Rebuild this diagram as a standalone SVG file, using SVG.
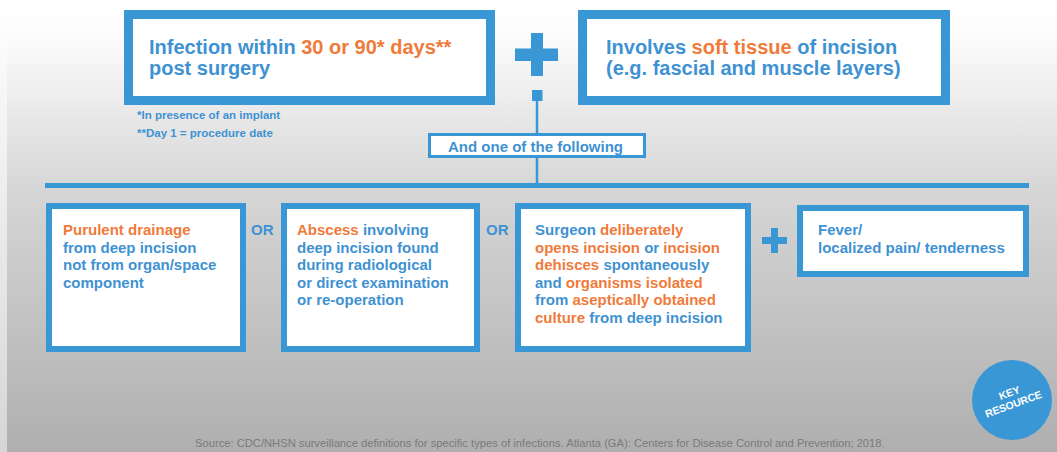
<svg xmlns="http://www.w3.org/2000/svg" width="1057" height="452" viewBox="0 0 1057 452">
<defs>
<linearGradient id="bg" x1="0" y1="0" x2="0" y2="1">
<stop offset="0" stop-color="#ffffff"/>
<stop offset="0.07" stop-color="#fdfdfd"/>
<stop offset="0.42" stop-color="#d6d6d6"/>
<stop offset="1" stop-color="#afafaf"/>
</linearGradient>
<linearGradient id="strip" x1="0" y1="0" x2="0" y2="1">
<stop offset="0" stop-color="#ffffff"/>
<stop offset="1" stop-color="#d6d6d6"/>
</linearGradient>
<style>
.box{fill:#ffffff;stroke:#3a97d6;}
.big{stroke-width:9;}
.sm{stroke-width:6;}
.t{font-family:"Liberation Sans",Arial,sans-serif;font-weight:bold;fill:#3f92d2;}
.o{fill:#ef7b3b;}
.line{stroke:#3a97d6;fill:none;}
.blue{fill:#3a97d6;}
.kr{font-family:"Liberation Sans",Arial,sans-serif;font-weight:bold;font-size:10.5px;fill:#ffffff;}
</style>
</defs>
<rect x="0" y="0" width="1057" height="452" fill="url(#bg)"/>
<rect x="0" y="0" width="7" height="452" fill="url(#strip)"/>

<g id="connectors">
<line class="line" x1="537" y1="100" x2="537" y2="134" stroke-width="2.5"/>
<line class="line" x1="537" y1="157" x2="537" y2="185" stroke-width="2.5"/>
<line class="line" x1="45" y1="185.5" x2="1029" y2="185.5" stroke-width="5"/>
</g>

<g id="node-infection">
<rect class="box big" x="128.5" y="14.5" width="362" height="86"/>
<text class="t" font-size="20" x="149" y="54">Infection within <tspan class="o">30 or 90* days**</tspan></text>
<text class="t" font-size="20" x="149" y="75">post surgery</text>
</g>

<g id="plus-top">
<rect class="blue" x="531" y="33" width="12" height="43"/>
<rect class="blue" x="515" y="48.5" width="43" height="12.5"/>
<rect class="blue" x="532" y="90" width="10.5" height="11"/>
</g>

<g id="node-soft-tissue">
<rect class="box big" x="582.5" y="14.5" width="363" height="86"/>
<text class="t" font-size="20" x="606" y="54">Involves <tspan class="o">soft tissue</tspan> of incision</text>
<text class="t" font-size="20" x="606" y="75">(e.g. fascial and muscle layers)</text>
</g>

<g id="footnotes">
<text class="t" font-size="11.5" x="137" y="119">*In presence of an implant</text>
<text class="t" font-size="11.5" x="137" y="137">**Day 1 = procedure date</text>
</g>

<g id="node-and-one">
<rect class="box" stroke-width="3" x="429.5" y="134.5" width="215" height="22"/>
<text class="t" font-size="15" x="448" y="151.5">And one of the following</text>
</g>

<g id="node-purulent">
<rect class="box sm" x="49" y="206" width="194" height="143"/>
<text class="t" font-size="15" x="63" y="235"><tspan class="o">Purulent drainage</tspan></text>
<text class="t" font-size="15" x="63" y="252.5">from deep incision</text>
<text class="t" font-size="15" x="63" y="270">not from organ/space</text>
<text class="t" font-size="15" x="63" y="287.5">component</text>
</g>

<text class="t" font-size="15" x="251" y="235">OR</text>

<g id="node-abscess">
<rect class="box sm" x="284" y="206" width="193" height="143"/>
<text class="t" font-size="15" x="297" y="235"><tspan class="o">Abscess</tspan> involving</text>
<text class="t" font-size="15" x="297" y="252.5">deep incision found</text>
<text class="t" font-size="15" x="297" y="270">during radiological</text>
<text class="t" font-size="15" x="297" y="287.5">or direct examination</text>
<text class="t" font-size="15" x="297" y="305">or re-operation</text>
</g>

<text class="t" font-size="15" x="486" y="235">OR</text>

<g id="node-surgeon">
<rect class="box sm" x="518" y="206" width="230" height="143"/>
<text class="t" font-size="15" x="535" y="235">Surgeon <tspan class="o">deliberately</tspan></text>
<text class="t" font-size="15" x="535" y="252.5"><tspan class="o">opens incision</tspan> or <tspan class="o">incision</tspan></text>
<text class="t" font-size="15" x="535" y="270"><tspan class="o">dehisces</tspan> spontaneously</text>
<text class="t" font-size="15" x="535" y="287.5">and <tspan class="o">organisms isolated</tspan></text>
<text class="t" font-size="15" x="535" y="305">from <tspan class="o">aseptically obtained</tspan></text>
<text class="t" font-size="15" x="535" y="322.5"><tspan class="o">culture</tspan> from deep incision</text>
</g>

<g id="plus-fever">
<rect class="blue" x="771" y="228" width="7" height="25"/>
<rect class="blue" x="762" y="237" width="25" height="7"/>
</g>

<g id="node-fever">
<rect class="box sm" x="800" y="208" width="226" height="66"/>
<text class="t" font-size="15" x="818" y="235">Fever/</text>
<text class="t" font-size="15" x="818" y="252.5">localized pain/ tenderness</text>
</g>

<g id="key-resource">
<circle cx="1012" cy="400" r="40" fill="#3a97d6"/>
<g transform="rotate(-20 1012 400)">
<text class="kr" x="1012" y="396" text-anchor="middle">KEY</text>
<text class="kr" x="1012" y="408" text-anchor="middle">RESOURCE</text>
</g>
</g>

<text x="195" y="447" font-family="Liberation Sans,Arial,sans-serif" font-size="11.2" fill="#7a7a7a">Source: CDC/NHSN surveillance definitions for specific types of infections. Atlanta (GA): Centers for Disease Control and Prevention; 2018.</text>
</svg>
